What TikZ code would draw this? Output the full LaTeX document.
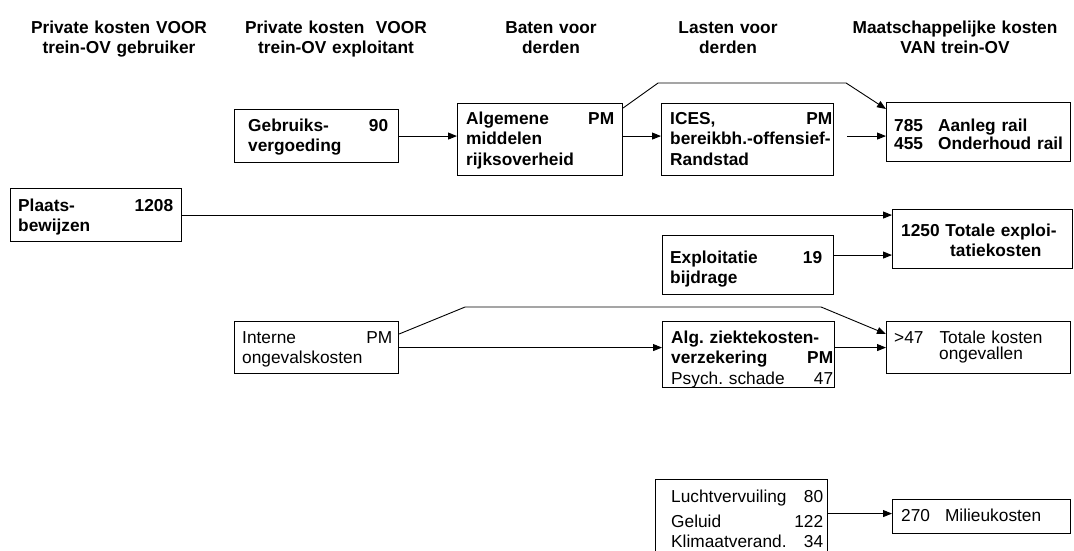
\documentclass[tikz,border=0pt]{standalone}
\usepackage{fontspec}
\setmainfont{Liberation Sans}
\usetikzlibrary{arrows.meta,calc}

\begin{document}
\frenchspacing
\begin{tikzpicture}[x=1pt,y=-1pt,
    kader/.style={draw, line width=1.1pt, inner sep=0pt, anchor=north west},
    tekst/.style={anchor=base west, inner sep=0pt, align=left, text width=#1,
                  font=\fontsize{17.3}{20.5}\selectfont\bfseries},
    gewoon/.style={font=\fontsize{17.3}{20}\selectfont},
    kop/.style={anchor=base, inner sep=0pt, align=center, text width=260pt,
                font=\fontsize{17.3}{20}\selectfont\bfseries},
    pijl/.style={-{Triangle[length=9pt,width=7pt]}, line width=0.9pt}]
    \useasboundingbox (0,0) rectangle (1074,550);
    \clip (0,0) rectangle (1074,550);

    % column headers
    \node[kop] (kop1) at (119,33) {Private kosten VOOR\\trein-OV gebruiker};
    \node[kop] (kop2) at (336,33) {Private kosten\ \ VOOR\\trein-OV exploitant};
    \node[kop] (kop3) at (551,33) {Baten voor\\derden};
    \node[kop] (kop4) at (728,33) {Lasten voor\\derden};
    \node[kop] (kop5) at (955,33) {Maatschappelijke kosten\\VAN trein-OV};

    % upper row: rail
    \node[kader, minimum width=164pt, minimum height=53pt] (gebruik) at (234,109) {};
    \node[tekst=140pt] (gebruik-t) at (248,131) {Gebruiks-\hfill 90\\vergoeding};
    \node[kader, minimum width=165pt, minimum height=72pt] (algemeen) at (457,103) {};
    \node[tekst=148pt] (algemeen-t) at (466,124) {Algemene\hfill PM\\middelen\\rijksoverheid};
    \node[kader, minimum width=172pt, minimum height=72pt] (ices) at (661,103) {};
    \node[tekst=162pt] (ices-t) at (670,124) {ICES,\hfill PM\\\mbox{bereikbh.-offensief-}\\Randstad};
    \node[kader, minimum width=184pt, minimum height=59pt] (aanleg) at (886,102) {};
    \node[tekst=170pt, font=\fontsize{17.3}{18}\selectfont\bfseries] (aanleg-t) at (894,131)
        {785\hspace{15pt}Aanleg rail\\455\hspace{15pt}Onderhoud rail};

    % exploitation
    \node[kader, minimum width=171pt, minimum height=53pt] (plaats) at (10,188) {};
    \node[tekst=155pt] (plaats-t) at (18,211) {Plaats-\hfill 1208\\bewijzen};
    \node[kader, minimum width=180pt, minimum height=59pt] (totaal) at (892,209) {};
    \node[tekst=165pt] (totaal-t) at (901,236) {1250 Totale exploi-\\\hspace*{49pt}tatiekosten};
    \node[kader, minimum width=171pt, minimum height=59pt] (exploit) at (662,235) {};
    \node[tekst=152pt] (exploit-t) at (670,263) {Exploitatie\hfill 19\\bijdrage};

    % accidents
    \node[kader, minimum width=164pt, minimum height=52pt] (intern) at (234,321) {};
    \node[tekst=150pt, gewoon] (intern-t) at (242,343) {Interne\hfill PM\\ongevalskosten};
    \node[kader, minimum width=172pt, minimum height=66pt] (ziekte) at (662,321) {};
    \node[tekst=162pt] (ziekte-t) at (671,343)
        {Alg. ziektekosten-\\verzekering\hfill PM\\\mdseries Psych. schade\hfill 47\hspace*{6pt}};
    \node[kader, minimum width=184pt, minimum height=52pt] (ongeval) at (886,321) {};
    \node[tekst=170pt, font=\fontsize{17.3}{16}\selectfont] (ongeval-t) at (894,343)
        {>47\hspace{16pt}Totale kosten\\\hspace*{45pt}ongevallen};

    % environment
    \node[kader, minimum width=172pt, minimum height=90pt] (lucht) at (655,479) {};
    \node[tekst=152pt, gewoon] (lucht-t) at (671,502)
        {Luchtvervuiling\hfill 80\hspace*{2pt}\\[5pt]Geluid\hfill 122\\Klimaatverand.\hfill 34\hspace*{2pt}};
    \node[kader, minimum width=178pt, minimum height=34pt] (milieu) at (892,499) {};
    \node[tekst=165pt, gewoon] (milieu-t) at (901,521) {270\hspace{15pt}Milieukosten};

    % arrows
    \draw[pijl] (gebruik.east) -- (gebruik.east -| algemeen.west);
    \draw[pijl] (algemeen.east |- gebruik.east) -- (ices.west |- gebruik.east);
    \draw[pijl] ($(ices.east |- gebruik.east)+(13,0)$) -- (aanleg.west |- gebruik.east);
    \draw[pijl] ([yshift=-5pt]algemeen.north east) -- ++(35,-25) -- ++(188,0)
        -- ([yshift=-7pt]aanleg.north west);
    \draw[pijl] (plaats.east) -- (plaats.east -| totaal.west);
    \draw[pijl] ([yshift=10pt]exploit.east) -- ([yshift=10pt]exploit.east -| totaal.west);
    \draw[pijl] (intern.east) -- (intern.east -| ziekte.west);
    \draw[pijl] (ziekte.east |- intern.east) -- (ongeval.west |- intern.east);
    \draw[pijl] ([yshift=-13pt]intern.north east) -- ++(66,-27) -- ++(356,0)
        -- ([yshift=-13pt]ongeval.north west);
    \draw[pijl] ([yshift=3pt]milieu.west -| lucht.east) -- ([yshift=3pt]milieu.west);
\end{tikzpicture}
\end{document}
